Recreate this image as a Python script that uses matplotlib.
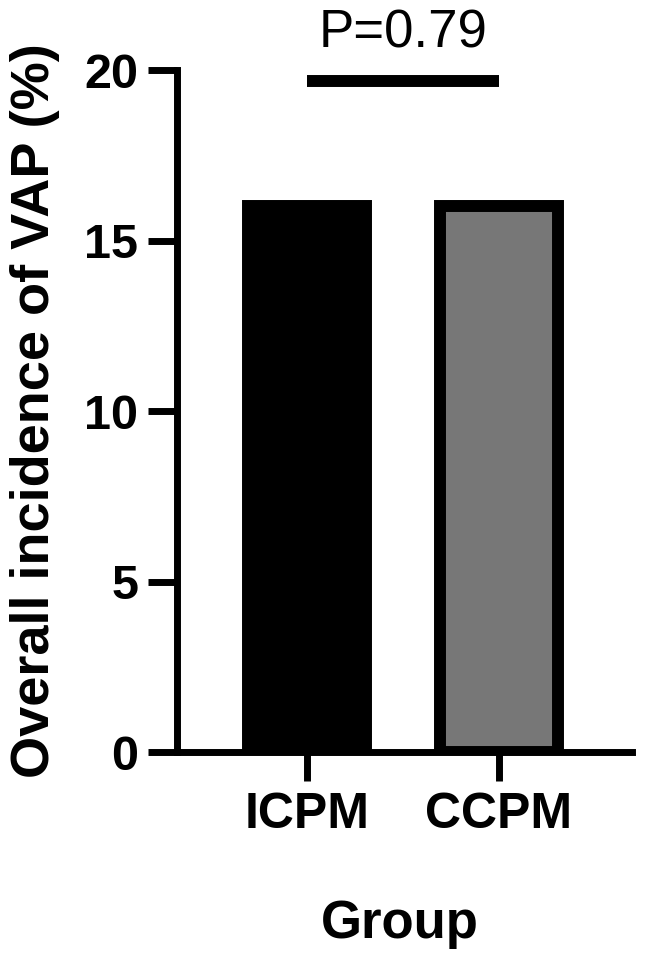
import matplotlib.pyplot as plt

plt.rcParams['font.family'] = ['Liberation Sans', 'DejaVu Sans']

groups = ['ICPM', 'CCPM']
incidence = [16.0, 16.0]
bar_colors = ['#000000', '#777777']
p_text = 'P=0.79'

fig = plt.figure(figsize=(6.49, 9.69), dpi=100)
ax = fig.add_axes([0.2727, 0.2239, 0.7011, 0.7038])

x = list(range(len(groups)))
ax.bar(x, incidence, width=0.615, color=bar_colors, edgecolor='black',
       linewidth=8.6, zorder=2)

# significance bar
ax.plot([0, 1], [19.68, 19.68], color='black', lw=8.6,
        solid_capstyle='butt', clip_on=False)
ax.text(0.5, 20.67, p_text, ha='center', va='baseline', fontsize=38,
        clip_on=False)

ax.set_xlim(-0.677, 1.693)
ax.set_ylim(0, 20)
ax.set_yticks([0, 5, 10, 15, 20])
ax.set_xticks(x)
ax.set_xticklabels(groups, fontsize=36, fontweight='bold')
for lab in ax.get_yticklabels():
    lab.set_fontsize(35)
    lab.set_fontweight('bold')

for s in ['top', 'right']:
    ax.spines[s].set_visible(False)
for s in ['left', 'bottom']:
    ax.spines[s].set_linewidth(5)
    ax.spines[s].set_zorder(3)
ax.tick_params(axis='both', width=5, length=21)
ax.tick_params(axis='y', pad=7)
ax.tick_params(axis='x', pad=8)

ax.set_ylabel('Overall incidence of VAP (%)', fontsize=39, fontweight='bold')
ax.yaxis.set_label_coords(-0.257, 0.5)
ax.set_xlabel('Group', fontsize=38, fontweight='bold')
ax.xaxis.set_label_coords(0.49, -0.215)

fig.savefig('out.png', dpi=100)
